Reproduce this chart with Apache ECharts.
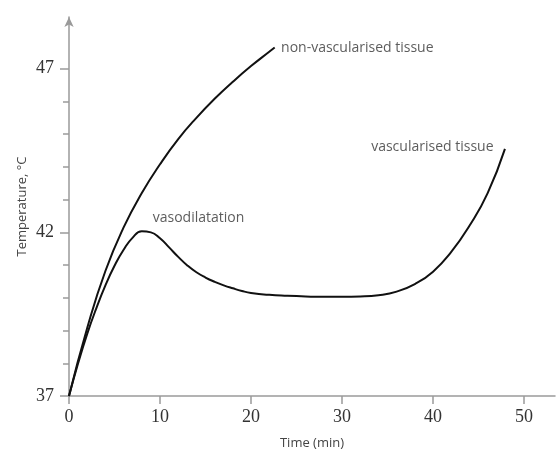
<!DOCTYPE html>
<html>
<head>
<meta charset="utf-8">
<script src="https://cdn.jsdelivr.net/npm/echarts@6/dist/echarts.min.js"></script>
<style>
  html, body { margin: 0; padding: 0; background: #fff; }
  #chart { width: 557px; height: 455px; }
</style>
</head>
<body>
<div id="chart"></div>
<script>
// 非血管化组织
const nonVascTime = [0, 2, 4, 6, 8, 10, 12, 14, 16, 18, 20, 22, 22.6]
const nonVascTemp = [37, 39.08, 40.82, 42.15, 43.2, 44.08, 44.85, 45.5, 46.08, 46.6, 47.08, 47.52, 47.65]

// 血管化组织
const vascTime = [0, 1, 2, 3, 4, 5, 6, 7, 8, 9, 10, 11, 12, 13, 14, 15, 16, 17, 18, 19, 20, 22, 24, 26, 28, 30, 32, 34, 36, 38, 40, 42, 44, 46, 47.9]
const vascTemp = [37, 38.0, 38.9, 39.68, 40.38, 40.98, 41.47, 41.84, 42.03, 42.0, 41.82, 41.54, 41.25, 40.99, 40.78, 40.62, 40.49, 40.38, 40.29, 40.21, 40.15, 40.09, 40.06, 40.04, 40.03, 40.03, 40.04, 40.08, 40.19, 40.42, 40.8, 41.4, 42.2, 43.2, 44.55]

const xTicks = [0, 10, 20, 30, 40, 50]
const yMajorTicks = [37, 42, 47]
const yMinorTicks = [37, 38, 39, 40, 41, 42, 43, 44, 45, 46, 47]

// 注释文字 (数据坐标)
const noteText = ['non-vascularised tissue', 'vascularised tissue', 'vasodilatation']
const noteTime = [23.3, 33.2, 9.2]
const noteTemp = [47.64, 44.6, 42.45]

const zip = (a, b) => a.map((v, i) => [v, b[i]])

const axisGrey = '#9a9a9a'
const sans = '"Open Sans", sans-serif'
const serif = '"Liberation Serif", serif'

const myChart = echarts.init(document.getElementById('chart'))
myChart.setOption({
  animation: false,
  grid: { left: 69, right: 2, top: 17, bottom: 56 },
  xAxis: {
    type: 'value',
    min: 0,
    max: 53.4,
    interval: 10,
    name: 'Time (min)',
    nameLocation: 'middle',
    nameGap: 41,
    nameTextStyle: { fontFamily: sans, fontSize: 13, color: '#444' },
    axisLine: { lineStyle: { color: axisGrey, width: 1.5 } },
    axisTick: { customValues: xTicks, length: 8, lineStyle: { color: axisGrey, width: 1.5 } },
    axisLabel: { customValues: xTicks, margin: 12, fontFamily: serif, fontSize: 18, color: '#333' },
    splitLine: { show: false }
  },
  yAxis: [
    {
      type: 'value',
      min: 37,
      max: 48.58,
      position: 'left',
      name: 'Temperature, °C',
      nameLocation: 'middle',
      nameGap: 40,
      nameRotate: 90,
      nameTextStyle: { fontFamily: sans, fontSize: 13, color: '#444' },
      axisLine: {
        show: true,
        symbol: ['none', 'arrow'],
        symbolSize: [7, 10],
        lineStyle: { color: axisGrey, width: 1.5 }
      },
      axisTick: { customValues: yMinorTicks, length: 6, lineStyle: { color: axisGrey, width: 1.5 } },
      axisLabel: { show: false },
      splitLine: { show: false }
    },
    {
      type: 'value',
      min: 37,
      max: 48.58,
      position: 'left',
      offset: 0,
      axisLine: { show: false },
      axisTick: { show: true, customValues: yMajorTicks, length: 9, lineStyle: { color: axisGrey, width: 1.5 } },
      axisLabel: { customValues: yMajorTicks, margin: 15, fontFamily: serif, fontSize: 18, color: '#333' },
      splitLine: { show: false }
    }
  ],
  series: [
    {
      name: 'non-vascularised tissue',
      type: 'line',
      smooth: 0.5,
      showSymbol: false,
      lineStyle: { color: '#111', width: 2 },
      data: zip(nonVascTime, nonVascTemp)
    },
    {
      name: 'vascularised tissue',
      type: 'line',
      smooth: 0.5,
      showSymbol: false,
      lineStyle: { color: '#111', width: 2 },
      data: zip(vascTime, vascTemp)
    },
    {
      name: 'notes',
      type: 'scatter',
      symbolSize: 0,
      silent: true,
      label: {
        show: true,
        position: 'right',
        distance: 0,
        formatter: p => p.name,
        fontFamily: sans,
        fontSize: 14,
        color: '#333'
      },
      data: noteText.map((t, i) => ({ name: t, value: [noteTime[i], noteTemp[i]] }))
    }
  ]
})
</script>
</body>
</html>
